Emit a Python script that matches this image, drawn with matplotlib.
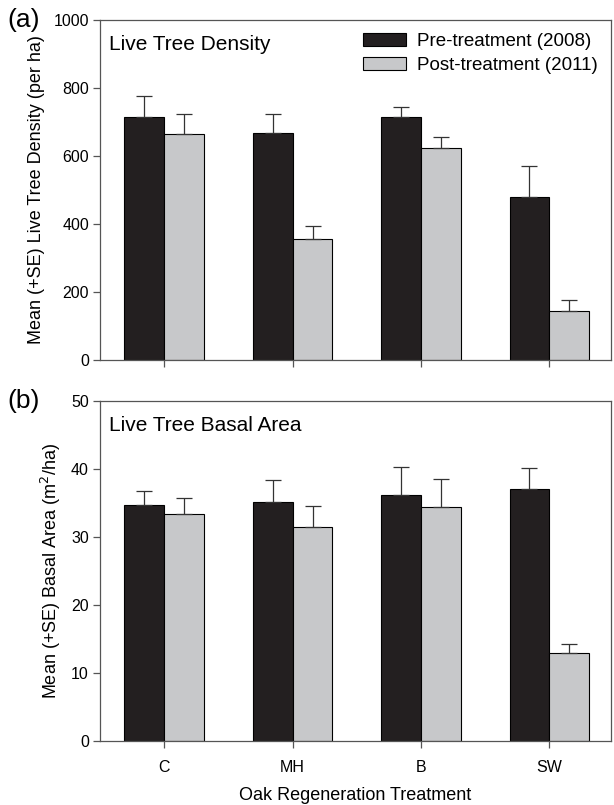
import numpy as np
import matplotlib
matplotlib.use("Agg")
from matplotlib import pyplot as plt

plt.rcParams['font.family'] = ['Liberation Sans', 'DejaVu Sans']

cats = ['C', 'MH', 'B', 'SW']
dens_pre = [714, 669, 716, 479]
dens_pre_se = [64, 55, 27, 91]
dens_post = [664, 356, 625, 143]
dens_post_se = [59, 38, 32, 32]
ba_pre = [34.7, 35.2, 36.1, 37.1]
ba_pre_se = [2.1, 3.1, 4.2, 3.1]
ba_post = [33.4, 31.4, 34.4, 12.9]
ba_post_se = [2.3, 3.1, 4.1, 1.3]

dark = '#231f20'
light = '#c7c8ca'
w = 0.31

fig = plt.figure(figsize=(6.14, 8.05), dpi=100)
ax1 = fig.add_axes([0.163, 0.553, 0.832, 0.422])
ax2 = fig.add_axes([0.163, 0.0795, 0.832, 0.4225])

def panel(ax, pre, pre_se, post, post_se, ymax, step, title, ylab):
    x = np.arange(len(cats))
    ekw = dict(ecolor='#333333', elinewidth=0.9, capsize=6, capthick=0.9)
    ax.bar(x - w/2, pre, w, color=dark, edgecolor='black', linewidth=0.8,
           yerr=[np.zeros(4), pre_se], error_kw=ekw, label='Pre-treatment (2008)')
    ax.bar(x + w/2, post, w, color=light, edgecolor='black', linewidth=0.8,
           yerr=[np.zeros(4), post_se], error_kw=ekw, label='Post-treatment (2011)')
    ax.set_xlim(-0.5, 3.48)
    ax.set_ylim(0, ymax)
    ax.set_yticks(np.arange(0, ymax + 1, step))
    ax.set_xticks(x)
    for s in ax.spines.values():
        s.set_color('#555555')
        s.set_linewidth(0.9)
    ax.tick_params(axis='both', direction='out', length=5, width=0.9,
                   color='#555555', labelsize=11.5, pad=3)
    ax.text(0.018, 0.955, title, transform=ax.transAxes, fontsize=15, va='top')
    ax.set_ylabel(ylab, fontsize=13, labelpad=6)

panel(ax1, dens_pre, dens_pre_se, dens_post, dens_post_se, 1000, 200,
      'Live Tree Density', 'Mean (+SE) Live Tree Density (per ha)')
panel(ax2, ba_pre, ba_pre_se, ba_post, ba_post_se, 50, 10,
      'Live Tree Basal Area', 'Mean (+SE) Basal Area (m$^2$/ha)')

ax1.set_xticklabels([])
ax2.set_xticklabels(cats)
ax2.tick_params(axis='x', pad=9)
ax2.set_xlabel('Oak Regeneration Treatment', fontsize=13, labelpad=8)

ax1.legend(loc='upper right', frameon=False, fontsize=13.5, handlelength=2.3,
           handleheight=0.7, borderaxespad=0.3, labelspacing=0.35,
           handletextpad=0.6)

fig.text(0.012, 0.975, '(a)', fontsize=19, va='center')
fig.text(0.012, 0.502, '(b)', fontsize=19, va='center')

fig.savefig('out.png', dpi=100)
